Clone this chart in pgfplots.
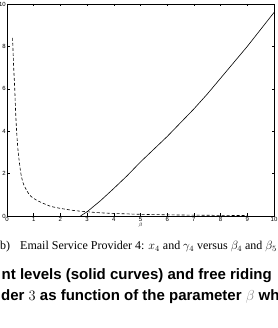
\documentclass[border=0pt]{standalone}
\usepackage{fontspec}
\setmainfont{Liberation Serif}
\setsansfont{Liberation Sans}
\usepackage{pgfplots}
\pgfplotsset{compat=1.18}
\begin{document}
\begin{tikzpicture}[x=1pt,y=1pt]
\path[use as bounding box] (0,0) rectangle (277,328);
\clip (0,0) rectangle (277,328);
\begin{axis}[
  at={(7pt,112pt)}, anchor=south west,
  scale only axis, width=267pt, height=212pt,
  xmin=0, xmax=10, ymin=0, ymax=10,
  xtick={0,1,...,10}, ytick={0,2,...,10},
  tick align=inside, tick pos=both,
  major tick length=2.5pt,
  axis line style={line width=0.9pt},
  every tick/.style={black, line width=0.5pt},
  /pgf/number format/assume math mode=true,
  ticklabel style={font=\fontsize{6}{7}\selectfont\sffamily, inner sep=1pt},
  xlabel={$\scriptscriptstyle\beta$},
  xlabel style={inner sep=0pt, yshift=0pt},
  clip=false,
]
\addplot[black, line width=0.6pt] coordinates {
(2.75,0) (3,0.2) (3.5,0.72) (4,1.3) (4.5,1.9) (5,2.55) (5.5,3.15) (6,3.75)
(6.5,4.4) (7,5.05) (7.5,5.75) (8,6.5) (8.5,7.25) (9,8.0) (9.5,8.8) (10,9.6)
};
\addplot[black, line width=0.6pt, dash pattern=on 3pt off 2pt, smooth, tension=0.4] coordinates {
(0.21,8.4) (0.22,8) (0.25,7) (0.29,6) (0.32,5) (0.36,4) (0.42,3) (0.52,2)
(0.62,1.5) (0.84,1.0) (1.1,0.75) (1.6,0.47) (2,0.36) (2.5,0.26) (3,0.2)
(3.5,0.15) (4,0.12) (5,0.08) (6,0.055) (7,0.04) (8,0.03) (9,0.02)
};
\end{axis}
\node[anchor=base west, inner sep=0pt, font=\fontsize{12}{14}\selectfont] at (-4,78)
  {(b)\hspace{10pt}Email Service Provider 4: $x_4$ and $\gamma_4$ versus $\beta_4$ and $\beta_5$};
\node[anchor=base west, inner sep=0pt, font=\fontsize{15}{17}\selectfont\sffamily\bfseries] at (1.5,48)
  {nt levels (solid curves) and free riding};
\node[anchor=base west, inner sep=0pt, font=\fontsize{15}{17}\selectfont\sffamily\bfseries] at (1,27)
  {der $3$ as function of the parameter {\color{gray}$\beta$} when};
\end{tikzpicture}
\end{document}
